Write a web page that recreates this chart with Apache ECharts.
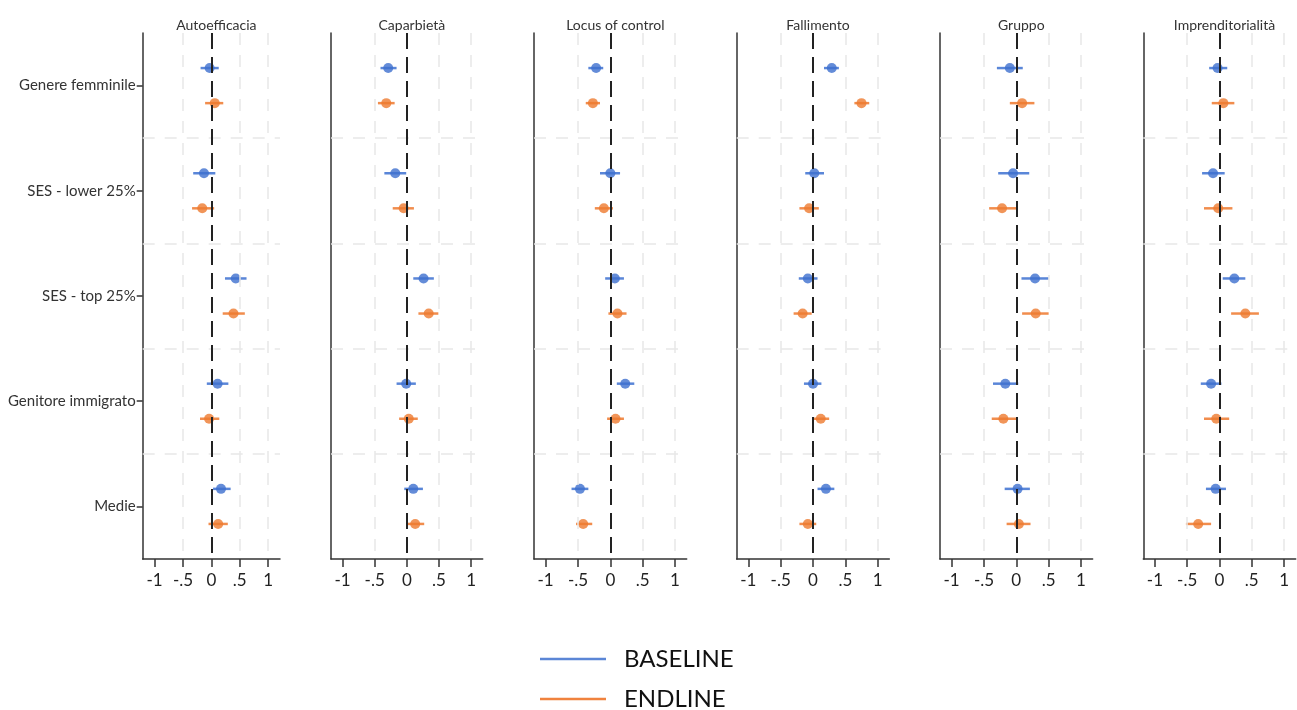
<!DOCTYPE html>
<html><head><meta charset="utf-8">
<script src="https://cdn.jsdelivr.net/npm/echarts@6/dist/echarts.min.js"></script>
<style>html,body{margin:0;padding:0;background:#fff}#c{width:1297px;height:710px}</style>
</head><body><div id="c"></div>
<script>
const panelTitles = ['Autoefficacia','Caparbietà','Locus of control','Fallimento','Gruppo','Imprenditorialità'];
const categories = ['Genere femminile','SES - lower 25%','SES - top 25%','Genitore immigrato','Medie'];
const xTicks = [-1,-0.5,0,0.5,1];
const xTickLabels = ['-1','-.5','0','.5','1'];
const xGridValues = [-0.5,0.5,1];
const seriesNames = ['BASELINE','ENDLINE'];

// rows = panels, columns = categories
const baselineEst = [
 [-0.03,-0.13,0.43,0.11,0.17],
 [-0.29,-0.18,0.26,-0.01,0.10],
 [-0.22,0.00,0.07,0.23,-0.47],
 [0.29,0.02,-0.08,0.00,0.20],
 [-0.10,-0.05,0.29,-0.17,0.02],
 [-0.03,-0.10,0.23,-0.13,-0.06]
];
const baselineLo = [
 [-0.19,-0.32,0.24,-0.08,0.03],
 [-0.41,-0.35,0.10,-0.16,-0.04],
 [-0.34,-0.16,-0.08,0.10,-0.60],
 [0.17,-0.12,-0.22,-0.14,0.07],
 [-0.30,-0.28,0.08,-0.36,-0.18],
 [-0.16,-0.27,0.05,-0.29,-0.21]
];
const baselineHi = [
 [0.13,0.07,0.62,0.30,0.34],
 [-0.16,-0.01,0.42,0.14,0.25],
 [-0.11,0.15,0.21,0.37,-0.34],
 [0.40,0.17,0.07,0.13,0.33],
 [0.10,0.20,0.50,0.03,0.21],
 [0.12,0.08,0.40,0.03,0.10]
];
const endlineEst = [
 [0.06,-0.16,0.39,-0.04,0.12],
 [-0.32,-0.05,0.34,0.03,0.13],
 [-0.27,-0.10,0.11,0.08,-0.42],
 [0.75,-0.06,-0.16,0.12,-0.08],
 [0.09,-0.22,0.30,-0.20,0.04],
 [0.06,-0.02,0.40,-0.05,-0.33]
];
const endlineLo = [
 [-0.11,-0.34,0.20,-0.20,-0.05],
 [-0.45,-0.22,0.18,-0.12,-0.01],
 [-0.38,-0.24,-0.03,-0.05,-0.53],
 [0.64,-0.21,-0.30,-0.01,-0.21],
 [-0.10,-0.42,0.09,-0.38,-0.15],
 [-0.12,-0.24,0.18,-0.24,-0.52]
];
const endlineHi = [
 [0.21,0.05,0.59,0.14,0.29],
 [-0.19,0.11,0.49,0.17,0.27],
 [-0.16,0.04,0.25,0.21,-0.28],
 [0.87,0.09,-0.02,0.25,0.05],
 [0.28,0.00,0.50,0.00,0.22],
 [0.23,0.20,0.61,0.15,-0.13]
];

const FONT = 'Lato, "Open Sans", sans-serif';
const pointColors = ['#3d6fce','#ee7a2f'];
const barColors = ['#5a86d8','#f18d4d'];
const legendColors = ['#5b86d6','#f0823e'];
const gridLefts = [142.7, 331, 534, 736.7, 940, 1143.3];
const gridWidths = [137.3, 151.7, 152.7, 152.6, 152.6, 152.4];
const xExt = [1.21, 1.18, 1.18, 1.18, 1.18, 1.18];
const TOP = 33, HEIGHT = 526;
const yOffsets = [1/3, 2/3];
const catCenters = categories.map((c,j)=>j+0.5);
const legendTops = [646, 686];

const grids = [], xAxes = [], yAxes = [], titles = [], series = [];
panelTitles.forEach((t,p)=>{
  grids.push({left: gridLefts[p], top: TOP, width: gridWidths[p], height: HEIGHT, containLabel:false});
  titles.push({text: t, left: gridLefts[p] + gridWidths[p]/2, top: 13, textAlign: 'center',
    textStyle:{fontFamily: FONT, fontSize: 14, fontWeight: 'normal', color:'#333'}});
  xAxes.push({type:'value', gridIndex:p, min:-xExt[p], max:xExt[p],
    axisLine:{show:true, onZero:false, lineStyle:{color:'#333', width:1.5}},
    axisTick:{show:true, length:8, customValues:xTicks, lineStyle:{color:'#333', width:1.5}},
    axisLabel:{customValues:xTicks, margin:13, fontFamily:FONT, fontSize:17, color:'#222',
      formatter:v=>xTickLabels[xTicks.findIndex(x=>Math.abs(x-v)<1e-6)] ?? ''},
    splitLine:{show:false}});
  yAxes.push({type:'value', gridIndex:p, min:0, max:categories.length, inverse:true,
    axisLine:{show:true, onZero:false, lineStyle:{color:'#333', width:1.5}},
    axisTick:{show:p===0, length:6, customValues:catCenters, lineStyle:{color:'#333', width:1.5}},
    axisLabel:{show:p===0, customValues:catCenters, margin:7, fontFamily:FONT, fontSize:15, color:'#333',
      formatter:v=>categories[Math.round(v-0.5)] ?? ''},
    splitLine:{show:false}});
  // reference lines
  const gridLineStyle = {color:'#e8e8e8', width:1.5, type:[12,10]};
  const mlData = [];
  xGridValues.forEach(v=>mlData.push({xAxis:v, lineStyle:gridLineStyle}));
  for (let j=1;j<categories.length;j++) mlData.push({yAxis:j, lineStyle:gridLineStyle});
  mlData.push({xAxis:0, lineStyle:{color:'#222', width:2, type:[16,8]}});
  series.push({type:'scatter', xAxisIndex:p, yAxisIndex:p, data:[], silent:true, z:1,
    markLine:{silent:true, symbol:'none', animation:false, label:{show:false}, data:mlData}});
  const sets = [[baselineEst, baselineLo, baselineHi],[endlineEst, endlineLo, endlineHi]];
  sets.forEach((s,k)=>{
    const [est, lo, hi] = s;
    series.push({type:'custom', name:seriesNames[k], xAxisIndex:p, yAxisIndex:p, z:3, silent:true,
      encode:{x:[0,1], y:2},
      data: categories.map((c,j)=>[lo[p][j], hi[p][j], j+yOffsets[k]]),
      itemStyle:{color:legendColors[k]},
      renderItem:(params, api)=>{
        const a = api.coord([api.value(0), api.value(2)]);
        const b = api.coord([api.value(1), api.value(2)]);
        return {type:'line', shape:{x1:a[0], y1:a[1], x2:b[0], y2:b[1]},
          style:{stroke:barColors[k], lineWidth:2.5}};
      }});
    series.push({type:'scatter', name:seriesNames[k], xAxisIndex:p, yAxisIndex:p, z:4, silent:true,
      symbol:'circle', symbolSize:10, itemStyle:{color:pointColors[k]},
      data: categories.map((c,j)=>[est[p][j], j+yOffsets[k]])});
  });
});

const legends = seriesNames.map((n,k)=>({
  left:540, top:legendTops[k], padding:0, orient:'vertical', icon:'rect', itemWidth:66, itemHeight:2.5,
  selectedMode:false,
  data:[{name:n, itemStyle:{color:legendColors[k]}}],
  textStyle:{fontFamily:FONT, fontSize:24, color:'#111', lineHeight:26, padding:[0,0,0,13]}
}));

const chart = echarts.init(document.getElementById('c'), null, {renderer:'canvas'});
chart.setOption({
  animation:false,
  backgroundColor:'#fff',
  title: titles,
  grid: grids, xAxis: xAxes, yAxis: yAxes,
  legend: legends,
  series
});
</script></body></html>
